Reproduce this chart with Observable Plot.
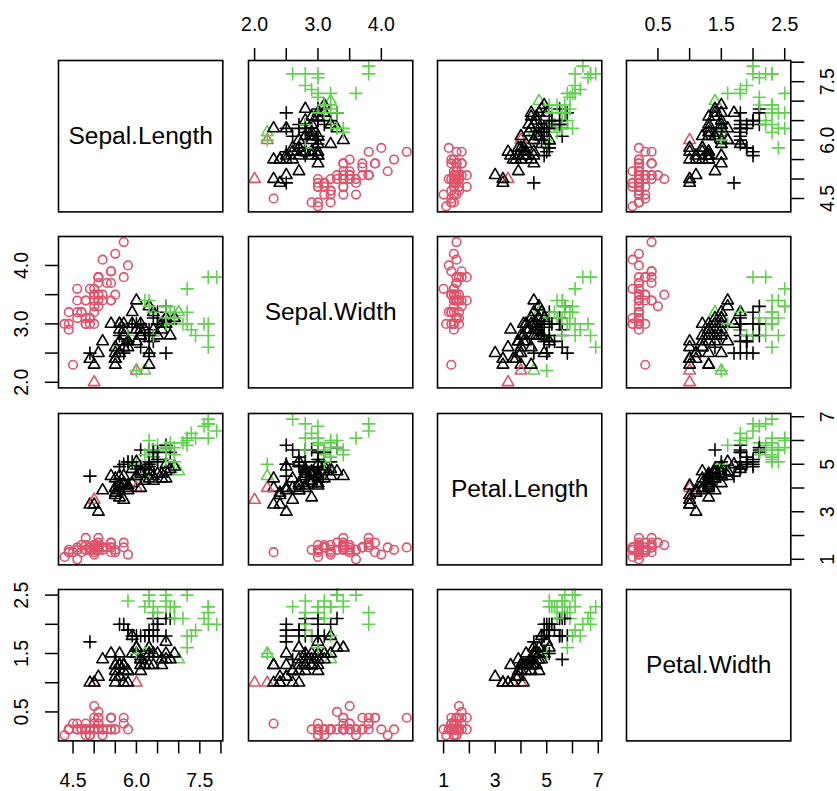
<!DOCTYPE html>
<html><head><meta charset="utf-8">
<script src="https://cdn.jsdelivr.net/npm/d3@7"></script>
<script src="https://cdn.jsdelivr.net/npm/@observablehq/plot@0.6"></script>
<style>
html,body{margin:0;padding:0;background:#fff;}
#chart{position:relative;width:837px;height:791px;overflow:hidden;background:#fff;}
#chart svg{position:absolute;}
</style></head><body><div id="chart"></div>
<script>
const varNames = ["Sepal.Length", "Sepal.Width", "Petal.Length", "Petal.Width"];

const sepalLength = [
5.1,4.9,4.7,4.6,5.0,5.4,4.6,5.0,4.4,4.9,5.4,4.8,4.8,4.3,5.8,5.7,5.4,5.1,5.7,5.1,
5.4,5.1,4.6,5.1,4.8,5.0,5.0,5.2,5.2,4.7,4.8,5.4,5.2,5.5,4.9,5.0,5.5,4.9,4.4,5.1,
5.0,4.5,4.4,5.0,5.1,4.8,5.1,4.6,5.3,5.0,
7.0,6.4,6.9,5.5,6.5,5.7,6.3,4.9,6.6,5.2,5.0,5.9,6.0,6.1,5.6,6.7,5.6,5.8,6.2,5.6,
5.9,6.1,6.3,6.1,6.4,6.6,6.8,6.7,6.0,5.7,5.5,5.5,5.8,6.0,5.4,6.0,6.7,6.3,5.6,5.5,
5.5,6.1,5.8,5.0,5.6,5.7,5.7,6.2,5.1,5.7,
6.3,5.8,7.1,6.3,6.5,7.6,4.9,7.3,6.7,7.2,6.5,6.4,6.8,5.7,5.8,6.4,6.5,7.7,7.7,6.0,
6.9,5.6,7.7,6.3,6.7,7.2,6.2,6.1,6.4,7.2,7.4,7.9,6.4,6.3,6.1,7.7,6.3,6.4,6.0,6.9,
6.7,6.9,5.8,6.8,6.7,6.7,6.3,6.5,6.2,5.9];
const sepalWidth = [
3.5,3.0,3.2,3.1,3.6,3.9,3.4,3.4,2.9,3.1,3.7,3.4,3.0,3.0,4.0,4.4,3.9,3.5,3.8,3.8,
3.4,3.7,3.6,3.3,3.4,3.0,3.4,3.5,3.4,3.2,3.1,3.4,4.1,4.2,3.1,3.2,3.5,3.6,3.0,3.4,
3.5,2.3,3.2,3.5,3.8,3.0,3.8,3.2,3.7,3.3,
3.2,3.2,3.1,2.3,2.8,2.8,3.3,2.4,2.9,2.7,2.0,3.0,2.2,2.9,2.9,3.1,3.0,2.7,2.2,2.5,
3.2,2.8,2.5,2.8,2.9,3.0,2.8,3.0,2.9,2.6,2.4,2.4,2.7,2.7,3.0,3.4,3.1,2.3,3.0,2.5,
2.6,3.0,2.6,2.3,2.7,3.0,2.9,2.9,2.5,2.8,
3.3,2.7,3.0,2.9,3.0,3.0,2.5,2.9,2.5,3.6,3.2,2.7,3.0,2.5,2.8,3.2,3.0,3.8,2.6,2.2,
3.2,2.8,2.8,2.7,3.3,3.2,2.8,3.0,2.8,3.0,2.8,3.8,2.8,2.8,2.6,3.0,3.4,3.1,3.0,3.1,
3.1,3.1,2.7,3.2,3.3,3.0,2.5,3.0,3.4,3.0];
const petalLength = [
1.4,1.4,1.3,1.5,1.4,1.7,1.4,1.5,1.4,1.5,1.5,1.6,1.4,1.1,1.2,1.5,1.3,1.4,1.7,1.5,
1.7,1.5,1.0,1.7,1.9,1.6,1.6,1.5,1.4,1.6,1.6,1.5,1.5,1.4,1.5,1.2,1.3,1.4,1.3,1.5,
1.3,1.3,1.3,1.6,1.9,1.4,1.6,1.4,1.5,1.4,
4.7,4.5,4.9,4.0,4.6,4.5,4.7,3.3,4.6,3.9,3.5,4.2,4.0,4.7,3.6,4.4,4.5,4.1,4.5,3.9,
4.8,4.0,4.9,4.7,4.3,4.4,4.8,5.0,4.5,3.5,3.8,3.7,3.9,5.1,4.5,4.5,4.7,4.4,4.1,4.0,
4.4,4.6,4.0,3.3,4.2,4.2,4.2,4.3,3.0,4.1,
6.0,5.1,5.9,5.6,5.8,6.6,4.5,6.3,5.8,6.1,5.1,5.3,5.5,5.0,5.1,5.3,5.5,6.7,6.9,5.0,
5.7,4.9,6.7,4.9,5.7,6.0,4.8,4.9,5.6,5.8,6.1,6.4,5.6,5.1,5.6,6.1,5.6,5.5,4.8,5.4,
5.6,5.1,5.1,5.9,5.7,5.2,5.0,5.2,5.4,5.1];
const petalWidth = [
0.2,0.2,0.2,0.2,0.2,0.4,0.3,0.2,0.2,0.1,0.2,0.2,0.1,0.1,0.2,0.4,0.4,0.3,0.3,0.3,
0.2,0.4,0.2,0.5,0.2,0.2,0.4,0.2,0.2,0.2,0.2,0.4,0.1,0.2,0.2,0.2,0.2,0.1,0.2,0.2,
0.3,0.3,0.2,0.6,0.4,0.3,0.2,0.2,0.2,0.2,
1.4,1.5,1.5,1.3,1.5,1.3,1.6,1.0,1.3,1.4,1.0,1.5,1.0,1.4,1.3,1.4,1.5,1.0,1.5,1.1,
1.8,1.3,1.5,1.2,1.3,1.4,1.4,1.7,1.5,1.0,1.1,1.0,1.2,1.6,1.5,1.6,1.5,1.3,1.3,1.3,
1.2,1.4,1.2,1.0,1.3,1.2,1.3,1.3,1.1,1.3,
2.5,1.9,2.1,1.8,2.2,2.1,1.7,1.8,1.8,2.5,2.0,1.9,2.1,2.0,2.4,2.3,1.8,2.2,2.3,1.5,
2.3,2.0,2.0,1.8,2.1,1.8,1.8,1.8,2.1,1.6,1.9,2.0,2.2,1.5,1.4,2.3,2.4,1.8,1.8,2.1,
2.4,2.3,1.9,2.3,2.5,2.3,1.9,2.0,2.3,1.8];

// plotting symbol group (species): 1 = circle, 2 = triangle, 3 = plus
const species = [
1,1,1,1,1,1,1,1,1,1,1,1,1,1,1,1,1,1,1,1,1,1,1,1,1,1,1,1,1,1,1,1,1,1,1,1,1,1,1,1,1,1,1,1,1,1,1,1,1,1,
2,2,2,2,2,2,2,2,2,2,2,2,2,2,2,2,2,2,2,2,2,2,2,2,2,2,2,2,2,2,2,2,2,2,2,2,2,2,2,2,2,2,2,2,2,2,2,2,2,2,
3,3,3,3,3,3,3,3,3,3,3,3,3,3,3,3,3,3,3,3,3,3,3,3,3,3,3,3,3,3,3,3,3,3,3,3,3,3,3,3,3,3,3,3,3,3,3,3,3,3];

// colour group (R palette index): 1 = black, 2 = red, 3 = green
const colourGroup = [
2,2,2,2,2,2,2,2,2,2,2,2,2,2,2,2,2,2,2,2,2,2,2,2,2,2,2,2,2,2,2,2,2,2,2,2,2,2,2,2,2,2,2,2,2,2,2,2,2,2,
3,1,1,1,1,1,1,1,1,1,2,1,2,1,1,1,1,1,3,1,1,1,1,1,1,1,1,1,1,1,1,1,1,1,1,1,1,1,1,1,1,1,1,1,1,1,1,1,1,1,
3,1,3,1,3,3,1,3,1,3,1,1,1,1,3,3,1,3,3,3,3,1,3,1,1,3,1,1,1,3,3,3,3,1,1,3,3,1,1,3,3,3,1,3,3,3,1,1,3,1];

const palette = ["#000000", "#DF536B", "#61D04F"];

const tickValues = [
  [4.5, 5.0, 5.5, 6.0, 6.5, 7.0, 7.5, 8.0],
  [2.0, 2.5, 3.0, 3.5, 4.0],
  [1, 2, 3, 4, 5, 6, 7],
  [0.5, 1.0, 1.5, 2.0, 2.5]];
const tickLabels = [
  [4.5, 6.0, 7.5],
  [2.0, 3.0, 4.0],
  [1, 3, 5, 7],
  [0.5, 1.5, 2.5]];
const labelDigits = [1, 1, 0, 1];

// ---------- build table ----------
const columns = [sepalLength, sepalWidth, petalLength, petalWidth];
const rows = sepalLength.map((_, i) => ({
  v: columns.map(c => c[i]),
  sp: species[i],
  col: palette[colourGroup[i] - 1]
}));
const domains = columns.map(c => {
  const [lo, hi] = d3.extent(c);
  const pad = 0.04 * (hi - lo);
  return [lo - pad, hi + pad];
});

// R-like plotting symbols (pch 1, 2, 3)
const symCircle = {draw(ctx, size) {
  const r = Math.sqrt(size / Math.PI);
  ctx.moveTo(r, 0); ctx.arc(0, 0, r, 0, 2 * Math.PI);
}};
const symTriangle = {draw(ctx, size) {
  const r = Math.sqrt(size / Math.PI);
  const t0 = 1.5551 * r, xc = 1.3468 * r, yc = 0.7776 * r;
  ctx.moveTo(0, -t0); ctx.lineTo(xc, yc); ctx.lineTo(-xc, yc); ctx.closePath();
}};
const symPlus = {draw(ctx, size) {
  const r = Math.sqrt(size / Math.PI) * Math.SQRT2;
  ctx.moveTo(-r, 0); ctx.lineTo(r, 0); ctx.moveTo(0, -r); ctx.lineTo(0, r);
}};
const symbols = [symCircle, symTriangle, symPlus];

// ---------- layout ----------
const PW = 164.3, PH = 151.4;
const LEFT0 = 58.3, TOP0 = 59.5, PITCHX = 189.3, PITCHY = 176.6;
const M = 50;
const FONT = "'Liberation Sans', Arial, Helvetica, sans-serif";
const TICKFS = 19.5;
const chart = document.getElementById("chart");

for (let i = 0; i < 4; i++) {
  for (let j = 0; j < 4; j++) {
    const marks = [];
    const fmt = k => d => d.toFixed(labelDigits[k]);
    if (i === j) {
      marks.push(Plot.text([varNames[i]], {
        frameAnchor: "middle", text: d => d, fontSize: 24.5, lineAnchor: "middle", fill: "black"
      }));
    } else {
      for (let s = 1; s <= 3; s++) {
        marks.push(Plot.dot(rows.filter(d => d.sp === s), {
          x: d => d.v[j], y: d => d.v[i], stroke: d => d.col, fill: "none",
          symbol: symbols[s - 1], r: 4.3, strokeWidth: 1.6,
          strokeLinejoin: "round", strokeLinecap: "round"
        }));
      }
    }
    // axes, R pairs style
    if (i === 0 && j % 2 === 1) {
      marks.push(Plot.axisX(tickValues[j], {anchor: "top", tickSize: 13, tickFormat: () => "", label: null, strokeWidth: 1.5}));
      marks.push(Plot.text(tickLabels[j], {x: d => d, text: fmt(j), frameAnchor: "top", dy: -36, lineAnchor: "middle", fontSize: TICKFS, fill: "black"}));
    }
    if (i === 3 && j % 2 === 0) {
      marks.push(Plot.axisX(tickValues[j], {anchor: "bottom", tickSize: 13, tickFormat: () => "", label: null, strokeWidth: 1.5}));
      marks.push(Plot.text(tickLabels[j], {x: d => d, text: fmt(j), frameAnchor: "bottom", dy: 39.5, lineAnchor: "middle", fontSize: TICKFS, fill: "black"}));
    }
    if (j === 0 && i % 2 === 1) {
      marks.push(Plot.axisY(tickValues[i], {anchor: "left", tickSize: 13, tickFormat: () => "", label: null, strokeWidth: 1.5}));
      marks.push(Plot.text(tickLabels[i], {y: d => d, text: fmt(i), frameAnchor: "left", dx: -36.5, rotate: -90, textAnchor: "middle", lineAnchor: "middle", fontSize: TICKFS, fill: "black"}));
    }
    if (j === 3 && i % 2 === 0) {
      marks.push(Plot.axisY(tickValues[i], {anchor: "right", tickSize: 13, tickFormat: () => "", label: null, strokeWidth: 1.5}));
      marks.push(Plot.text(tickLabels[i], {y: d => d, text: fmt(i), frameAnchor: "right", dx: 36.5, rotate: -90, textAnchor: "middle", lineAnchor: "middle", fontSize: TICKFS, fill: "black"}));
    }
    marks.push(Plot.frame({stroke: "black", strokeWidth: 1.6}));

    const svg = Plot.plot({
      width: PW + 2 * M, height: PH + 2 * M,
      marginTop: M, marginBottom: M, marginLeft: M, marginRight: M,
      x: {domain: domains[j], axis: null},
      y: {domain: domains[i], axis: null},
      color: {type: "identity"},
      style: {background: "none", overflow: "visible", fontFamily: FONT, fontSize: "19px", color: "black"},
      marks
    });
    const left = LEFT0 + j * PITCHX - M, top = TOP0 + i * PITCHY - M;
    svg.style.left = left + "px";
    svg.style.top = top + "px";
    svg.style.maxWidth = "none";
    chart.appendChild(svg);
  }
}
</script>
</body></html>
